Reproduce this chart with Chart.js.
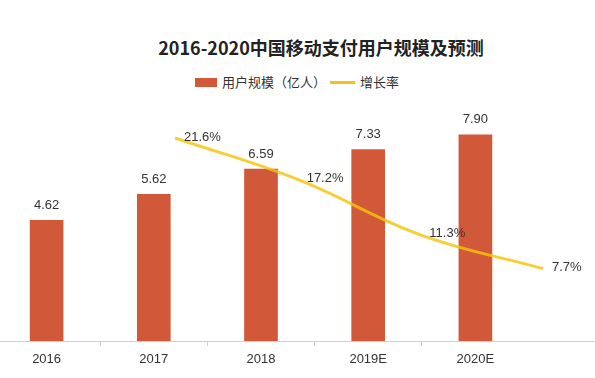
<!DOCTYPE html>
<html><head><meta charset="utf-8">
<script src="https://cdn.jsdelivr.net/npm/chart.js@4/dist/chart.umd.min.js"></script>
<style>
html,body{margin:0;padding:0;background:#fff;width:595px;height:378px;overflow:hidden;position:relative;}
#title{position:absolute;left:0;width:642px;top:35px;text-align:center;font-weight:bold;font-size:18px;font-family:"Noto Sans CJK SC",sans-serif;line-height:24px;color:#222;}
.lg{position:absolute;font-size:13px;font-family:"Noto Sans CJK SC",sans-serif;line-height:18px;color:#333;top:73px;}
#box{position:absolute;left:195px;top:78px;width:22px;height:9px;background:#D2583A;}
#ln{position:absolute;left:330px;top:81px;width:25px;height:3px;background:#F2C418;}
#wrap{position:absolute;left:-7px;top:0;width:602px;height:378px;}
</style></head>
<body>
<div id="title">2016-2020中国移动支付用户规模及预测</div>
<div id="box"></div><div class="lg" style="left:222px">用户规模（亿人）</div>
<div id="ln"></div><div class="lg" style="left:360px">增长率</div>
<div id="wrap"><canvas id="c"></canvas></div>
<script>
const categories = ['2016','2017','2018','2019E','2020E'];
const users = [4.62, 5.62, 6.59, 7.33, 7.90];
const growthLabels = ['2017','2018','2019E','2020E'];
const growth = [21.6, 17.2, 11.3, 7.7];

const numFont = '"Liberation Sans", Arial, sans-serif';

const labelPlugin = {
  id: 'valLabels',
  afterDatasetsDraw(chart) {
    const ctx = chart.ctx;
    ctx.save();
    ctx.font = '13px ' + numFont;
    ctx.fillStyle = '#333';
    const bm = chart.getDatasetMeta(0);
    ctx.textAlign = 'center'; ctx.textBaseline = 'middle';
    bm.data.forEach((el, i) => ctx.fillText(users[i].toFixed(2), el.x, el.y - 15));
    const lm = chart.getDatasetMeta(1);
    ctx.textAlign = 'left';
    lm.data.forEach((el, i) => ctx.fillText(growth[i].toFixed(1) + '%', el.x + 9, el.y - 1));
    ctx.restore();
  },
  afterDraw(chart) {
    const ctx = chart.ctx;
    const y = Math.round(chart.chartArea.bottom) + 0.5;
    ctx.save();
    ctx.strokeStyle = '#d0d0d0'; ctx.lineWidth = 1;
    ctx.beginPath(); ctx.moveTo(0, y); ctx.lineTo(chart.width, y); ctx.stroke();
    ctx.restore();
  }
};

new Chart(document.getElementById('c'), {
  data: {
    labels: categories,
    datasets: [
      { type: 'bar', label: '用户规模（亿人）', data: users, backgroundColor: '#D2583A',
        barThickness: 33, grouped: false, xAxisID: 'x', yAxisID: 'y', order: 2 },
      { type: 'line', label: '增长率', data: growth.map((v, i) => ({x: i, y: v})),
        borderColor: 'rgba(244,196,10,0.82)', borderWidth: 3, pointRadius: 0, tension: 0.4,
        fill: false, clip: false, xAxisID: 'x2', yAxisID: 'y2', order: 1 }
    ]
  },
  options: {
    responsive: true, maintainAspectRatio: false, animation: false,
    layout: { padding: { top: 80, right: 66, left: 0, bottom: 0 } },
    plugins: { legend: { display: false }, title: { display: false }, tooltip: { enabled: false } },
    scales: {
      x: {
        type: 'category', offset: true,
        grid: { offset: true, drawOnChartArea: false, drawTicks: true, tickLength: 5,
          color: (c) => (c.type !== 'tick' || c.index === 0) ? 'rgba(0,0,0,0)' : '#d0d0d0' },
        border: { display: false },
        ticks: { color: '#333', font: { size: 13, family: numFont }, padding: 6 },
        afterFit: (s) => { s.height = 37; }
      },
      y: { display: false, min: 0, max: 10 },
      x2: { type: 'linear', display: false, min: -1.4837, max: 2.886 },
      y2: { display: false, min: 0, max: 27.77 }
    }
  },
  plugins: [labelPlugin]
});
</script>
</body></html>
